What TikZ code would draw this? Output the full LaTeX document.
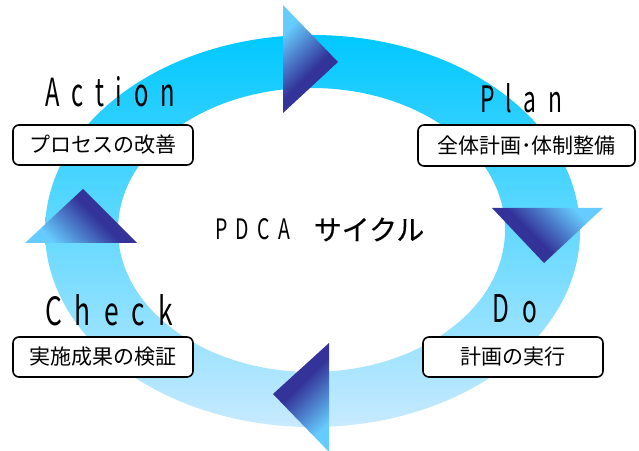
\documentclass[tikz,border=0pt]{standalone}
\usepackage{fontspec}
\setmainfont{Noto Sans CJK JP}
\usepackage{graphicx}
\definecolor{ringtop}{RGB}{0,200,255}
\definecolor{ringbot}{RGB}{200,234,255}
\definecolor{tlight}{RGB}{102,204,255}
\definecolor{tdark}{RGB}{51,51,153}
\pgfdeclareverticalshading{trishade}{100bp}{color(0bp)=(tdark); color(44bp)=(tdark); color(73bp)=(tlight); color(100bp)=(tlight)}
\makeatletter
\newcommand\lsp[2]{\@tfor\lsp@c:=#2\do{\lsp@c\kern#1}\unkern}
\makeatother
\tikzset{
  stepbox/.style={draw=black, line width=1.6pt, fill=white, rounded corners=6pt,
    minimum width=180pt, minimum height=40pt, inner sep=0pt,
    font=\fontsize{21}{21}\selectfont},
  word/.style={inner sep=0pt, anchor=center},
  tri/.style={shading=trishade},
}
\begin{document}
\begin{tikzpicture}[x=1pt,y=1pt]
\useasboundingbox (0,0) rectangle (639,450);
\begin{scope}
\clip (0,0) rectangle (639,450);
% ring
\shade[top color=ringtop, bottom color=ringbot, even odd rule]
  (312.5,219) ellipse [x radius=267.5, y radius=196]
  (311.5,220) ellipse [x radius=193.5, y radius=142];
% arrowheads
\shade[tri, shading angle=45]   (283,445) -- (283,337) -- (338,388) -- cycle;
\shade[tri, shading angle=-45]  (492,242) -- (603,242) -- (544,187) -- cycle;
\shade[tri, shading angle=-135] (329,107) -- (273,56) -- (329,-2) -- cycle;
\shade[tri, shading angle=135]  (25,207) -- (137,207) -- (83,261) -- cycle;
\end{scope}
% titles
\node[word] (action) at (110,358) {\resizebox{130pt}{30pt}{\fontsize{40}{40}\selectfont\lsp{20pt}{Action}}};
\node[word] (plan) at (521,352) {\resizebox{82pt}{29pt}{\fontsize{40}{40}\selectfont\lsp{20pt}{Plan}}};
\node[word] (check) at (109,140) {\resizebox{128pt}{31pt}{\fontsize{40}{40}\selectfont\lsp{20pt}{Check}}};
\node[word] (do) at (514.5,141) {\resizebox{45pt}{28pt}{\fontsize{40}{40}\selectfont\lsp{22pt}{Do}}};
\node[word] (pdca) at (252.5,221) {\resizebox{75pt}{21pt}{\fontsize{28}{28}\selectfont\lsp{12pt}{PDCA}}};
\node[word] (cycle) at (369,220.5) {\fontsize{28}{28}\selectfont\addfontfeature{FakeBold=0.3}サイクル};
% boxes
\node[stepbox] (actbox) at (103,305) {プロセスの改善};
\node[stepbox, minimum width=217pt, minimum height=41pt] (planbox) at (526.5,304.5) {全体計画･体制整備};
\node[stepbox] (checkbox) at (103,93) {実施成果の検証};
\node[stepbox] (dobox) at (513,93) {計画の実行};
\end{tikzpicture}
\end{document}
